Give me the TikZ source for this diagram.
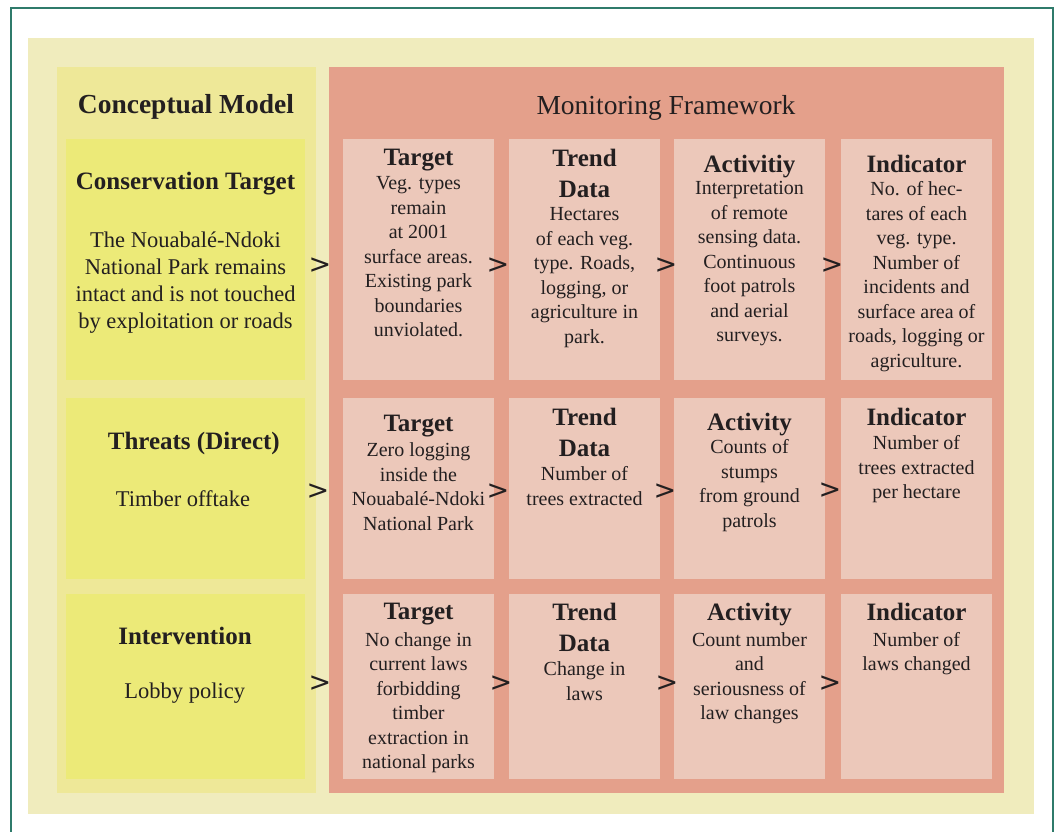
\documentclass[tikz,border=0pt]{standalone}
\usepackage{fontspec}
\setmainfont{Liberation Serif}
\newfontfamily\gtfont{DejaVu Sans}
\definecolor{outerbg}{HTML}{F0ECBD}
\definecolor{conceptbg}{HTML}{EEE898}
\definecolor{cellyellow}{HTML}{ECEA78}
\definecolor{salmon}{HTML}{E4A08B}
\definecolor{cellpink}{HTML}{ECC8BA}
\definecolor{framegreen}{HTML}{2F7B6B}
\definecolor{ink}{HTML}{231F20}
\tikzset{
  panel/.style={inner sep=0pt, outer sep=0pt, draw=none},
  ycell/.style={panel, fill=cellyellow, minimum width=239pt},
  pcell/.style={panel, fill=cellpink, minimum width=151pt},
  title/.style={font=\fontsize{27.5}{33}\selectfont, text=ink, anchor=north, inner sep=0pt, align=center},
  head/.style={font=\fontsize{25}{31}\selectfont\bfseries, text=ink, anchor=north, inner sep=0pt, align=center},
  body/.style={font=\fontsize{20}{24.5}\selectfont, text=ink, anchor=north, inner sep=0pt, align=center},
  lbody/.style={font=\fontsize{22.5}{27}\selectfont, text=ink, anchor=north, inner sep=0pt, align=center},
  gt/.style={font=\gtfont\fontsize{27}{27}\selectfont, text=ink, inner sep=0pt},
}
\begin{document}
\begin{tikzpicture}[x=1pt,y=-1pt]
\useasboundingbox (0,0) rectangle (1057,832);
% frame
\draw[framegreen, line width=1.6pt] (11,845) -- (11,8) -- (1053,8) -- (1053,845);
% panels
\node[panel, fill=outerbg, minimum width=1006pt, minimum height=776pt] (outer) at (531,426) {};
\node[panel, fill=conceptbg, minimum width=259pt, minimum height=726pt] (concept) at (186.5,430) {};
\node[panel, fill=salmon, minimum width=675pt, minimum height=726pt] (monitor) at (666.5,430) {};
% left cells
\node[ycell, minimum height=241pt] (l1) at (185.5,259.5) {};
\node[ycell, minimum height=181.5pt] (l2) at (185.5,488.25) {};
\node[ycell, minimum height=185.5pt] (l3) at (185.5,686.25) {};
% right cells
\foreach \c/\x in {1/418.5,2/584.5,3/749.5,4/916.5}{
  \node[pcell, minimum height=241pt] (c1\c) at (\x,259.5) {};
  \node[pcell, minimum height=181.5pt] (c2\c) at (\x,488.25) {};
  \node[pcell, minimum height=185.5pt] (c3\c) at (\x,686.25) {};
}
% titles
\node[title, font=\fontsize{27.5}{33}\selectfont\bfseries] (tcm) at (186,94) {Conceptual Model};
\node[title] (tmf) at (666,95) {Monitoring Framework};
% left texts
\node[head] (h1) at (185.5,171.5) {Conservation Target};
\node[lbody] (b1) at (185.5,232) {The Nouabalé-Ndoki\\National Park remains\\intact and is not touched\\by exploitation or roads};
\node[head] (h2) at (193.8,432) {Threats (Direct)};
\node[lbody] (b2) at (183,490) {Timber offtake};
\node[head] (h3) at (185,626.5) {Intervention};
\node[lbody] (b3) at (184.7,683) {Lobby policy};
% row 1
\node[head] (h11) at (418.5,149) {Target};
\node[body] (b11) at (418.5,176.5) {Veg. types\\remain\\at 2001\\surface areas.\\Existing park\\boundaries\\unviolated.};
\node[head] (h12) at (584.5,149) {Trend\\Data};
\node[body] (b12) at (584.5,207.5) {Hectares\\of each veg.\\type. Roads,\\logging, or\\agriculture in\\park.};
\node[head] (h13) at (749.5,154.5) {Activitiy};
\node[body] (b13) at (749.5,181.5) {Interpretation\\of remote\\sensing data.\\Continuous\\foot patrols\\and aerial\\surveys.};
\node[head] (h14) at (916.5,154.5) {Indicator};
\node[body] (b14) at (916.5,181.5) {No. of hec-\\tares of each\\veg. type.\\Number of\\incidents and\\surface area of\\roads, logging or\\agriculture.};
% row 2
\node[head] (h21) at (418.5,415) {Target};
\node[body] (b21) at (418.5,442.7) {Zero logging\\inside the\\Nouabalé-Ndoki\\National Park};
\node[head] (h22) at (584.5,408.3) {Trend\\Data};
\node[body] (b22) at (584.5,466.5) {Number of\\trees extracted};
\node[head] (h23) at (749.5,413.3) {Activity};
\node[body] (b23) at (749.5,439.5) {Counts of\\stumps\\from ground\\patrols};
\node[head] (h24) at (916.5,408.3) {Indicator};
\node[body] (b24) at (916.5,435.3) {Number of\\trees extracted\\per hectare};
% row 3
\node[head] (h31) at (418.5,603.3) {Target};
\node[body] (b31) at (418.5,632) {No change in\\current laws\\forbidding\\timber\\extraction in\\national parks};
\node[head] (h32) at (584.5,603.3) {Trend\\Data};
\node[body] (b32) at (584.5,661.5) {Change in\\laws};
\node[head] (h33) at (749.5,603.3) {Activity};
\node[body] (b33) at (749.5,632) {Count number\\and\\seriousness of\\law changes};
\node[head] (h34) at (916.5,603.3) {Indicator};
\node[body] (b34) at (916.5,632) {Number of\\laws changed};
% > signs
\node[gt] (g10) at (320,266) {>};
\node[gt] (g11) at (498,266) {>};
\node[gt] (g12) at (666,266) {>};
\node[gt] (g13) at (832,266) {>};
\node[gt] (g20) at (318,492) {>};
\node[gt] (g21) at (498,492) {>};
\node[gt] (g22) at (665,492) {>};
\node[gt] (g23) at (830,491) {>};
\node[gt] (g30) at (320,684) {>};
\node[gt] (g31) at (501,684) {>};
\node[gt] (g32) at (667,684) {>};
\node[gt] (g33) at (830,684) {>};
\end{tikzpicture}
\end{document}
